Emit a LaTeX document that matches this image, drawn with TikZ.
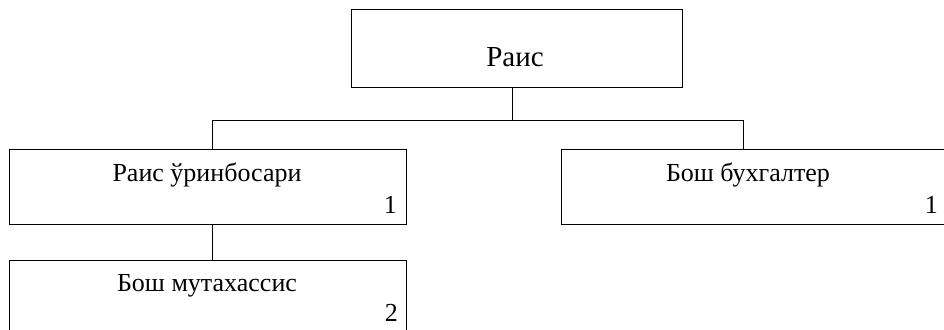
\documentclass[tikz,border=0pt]{standalone}
\usepackage{fontspec}
\setmainfont{Liberation Serif}
\usetikzlibrary{calc}
\tikzset{
  post/.style={draw, thick, rectangle, inner sep=0pt},
  lbl/.style={anchor=base, inner sep=0pt, font=\fontsize{26}{30}\selectfont},
  num/.style={anchor=base east, inner sep=0pt, font=\fontsize{26}{30}\selectfont}
}
\begin{document}
\begin{tikzpicture}[x=1pt,y=-1pt]
\useasboundingbox (0,0) rectangle (944,329);
\clip (0,0) rectangle (944,329);
\node[post, minimum width=331pt, minimum height=78pt] (rais) at (516.5,48.8) {};
\node[post, minimum width=397pt, minimum height=75pt] (deputy) at (208,186.5) {};
\node[post, minimum width=397pt, minimum height=75pt] (accountant) at (759.5,186.5) {};
\node[post, minimum width=397pt, minimum height=75pt] (expert) at (208,297.5) {};
\node[lbl, font=\fontsize{29}{34}\selectfont] (raisT) at (515,66.7) {Раис};
\node[lbl] (deputyT) at (207,181.7) {Раис ўринбосари};
\node[num] (deputyN) at (397,213) {1};
\node[lbl] (accountantT) at (748,181.7) {Бош бухгалтер};
\node[num] (accountantN) at (938,213) {1};
\node[lbl] (expertT) at (207,291.7) {Бош мутахассис};
\node[num] (expertN) at (398,321.7) {2};
\coordinate (busL) at (212,120);
\coordinate (busR) at (743,120);
\draw[thick] ([xshift=-4pt]rais.south) -- ([xshift=-4pt]rais.south |- busL);
\draw[thick] (busL |- deputy.north) -- (busL) -- (busR) -- (busR |- accountant.north);
\draw[thick] (busL |- deputy.south) -- (busL |- expert.north);
\end{tikzpicture}
\end{document}
